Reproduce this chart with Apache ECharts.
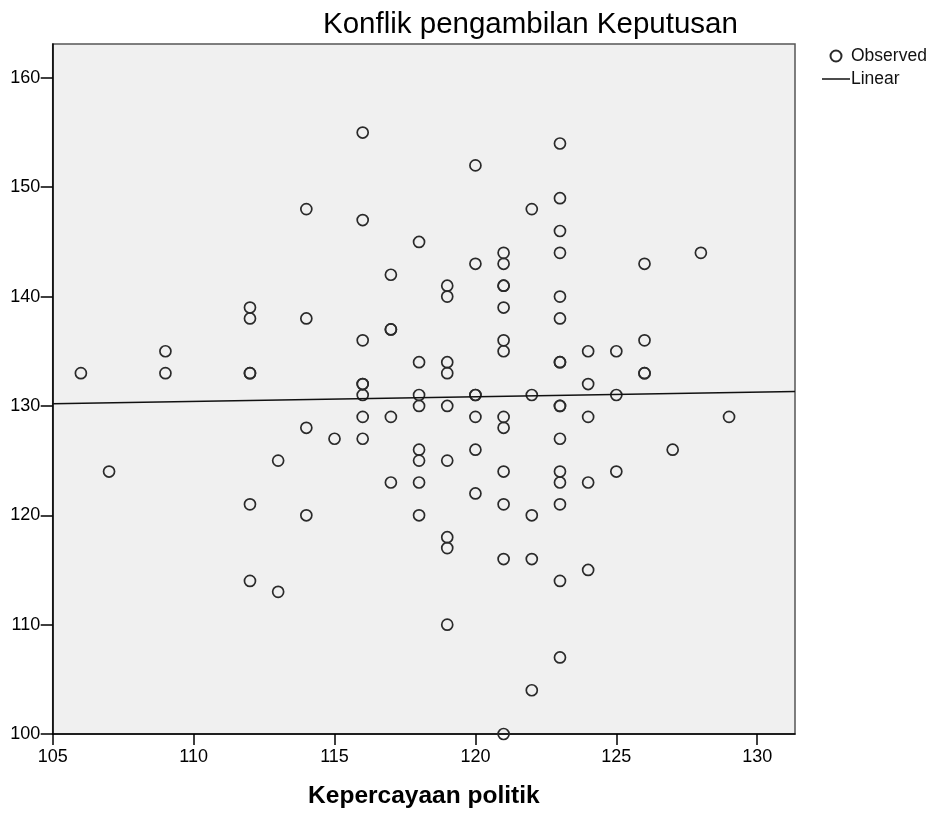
<!DOCTYPE html>
<html>
<head>
<meta charset="utf-8">
<script src="https://cdn.jsdelivr.net/npm/echarts@6/dist/echarts.min.js"></script>
<style>
html,body{margin:0;padding:0;background:#fff;}
#chart{width:939px;height:814px;}
</style>
</head>
<body>
<div id="chart"></div>
<script>
// Kepercayaan politik (x) and Konflik pengambilan Keputusan (y), one pair per respondent
const xValues = [
  106,
  107,
  109, 109,
  112, 112, 112, 112, 112, 112,
  113, 113,
  114, 114, 114, 114,
  115,
  116, 116, 116, 116, 116, 116, 116, 116,
  117, 117, 117, 117, 117,
  118, 118, 118, 118, 118, 118, 118, 118,
  119, 119, 119, 119, 119, 119, 119, 119, 119,
  120, 120, 120, 120, 120, 120, 120,
  121, 121, 121, 121, 121, 121, 121, 121, 121, 121, 121, 121, 121,
  122, 122, 122, 122, 122,
  123, 123, 123, 123, 123, 123, 123, 123, 123, 123, 123, 123, 123, 123, 123, 123,
  124, 124, 124, 124, 124,
  125, 125, 125,
  126, 126, 126, 126,
  127,
  128,
  129
];
const yValues = [
  133,
  124,
  135, 133,
  139, 138, 133, 133, 121, 114,
  125, 113,
  148, 138, 128, 120,
  127,
  155, 147, 136, 132, 132, 131, 129, 127,
  142, 137, 137, 129, 123,
  145, 134, 131, 130, 126, 125, 123, 120,
  141, 140, 134, 133, 130, 125, 118, 117, 110,
  152, 143, 131, 131, 129, 126, 122,
  144, 143, 141, 141, 139, 136, 135, 129, 128, 124, 121, 116, 100,
  148, 131, 120, 116, 104,
  154, 149, 146, 144, 140, 138, 134, 134, 130, 130, 127, 124, 123, 121, 114, 107,
  135, 132, 129, 123, 115,
  135, 131, 124,
  143, 136, 133, 133,
  126,
  144,
  129
];
const xTicks = [105, 110, 115, 120, 125, 130];
const yTicks = [100, 110, 120, 130, 140, 150, 160];
const xRange = [105, 131.34];
const yRange = [100, 163.1];

const observed = xValues.map((x, i) => [x, yValues[i]]);

// least-squares linear fit from the observed data
const n = xValues.length;
const mx = xValues.reduce((a, b) => a + b, 0) / n;
const my = yValues.reduce((a, b) => a + b, 0) / n;
let sxy = 0, sxx = 0;
for (let i = 0; i < n; i++) {
  sxy += (xValues[i] - mx) * (yValues[i] - my);
  sxx += (xValues[i] - mx) * (xValues[i] - mx);
}
const slope = sxy / sxx;
const intercept = my - slope * mx;
const fitLine = xRange.map(x => [x, intercept + slope * x]);

const FONT = 'Liberation Sans, Arial, sans-serif';
const chart = echarts.init(document.getElementById('chart'), null, {renderer: 'canvas'});
chart.setOption({
  animation: false,
  backgroundColor: '#ffffff',
  title: {
    text: 'Konflik pengambilan Keputusan',
    left: 318,
    top: 5,
    textStyle: {fontFamily: FONT, fontSize: 29.5, fontWeight: 'normal', color: '#000'}
  },
  legend: {
    orient: 'vertical',
    left: 817,
    top: 42,
    itemWidth: 28,
    itemHeight: 11,
    itemGap: 5,
    symbolKeepAspect: true,
    textStyle: {fontFamily: FONT, fontSize: 17.5, color: '#111', padding: [0, 0, 0, -4]},
    data: [
      {name: 'Observed', icon: 'circle'},
      {name: 'Linear', icon: 'path://M0,0H28V1.5H0Z', itemStyle: {color: '#111', borderWidth: 0}}
    ]
  },
  grid: {
    left: 52.7,
    top: 44,
    right: 144,
    bottom: 80,
    show: true,
    backgroundColor: '#f0f0f0',
    borderColor: '#555',
    borderWidth: 1.5
  },
  xAxis: {
    type: 'value',
    min: xRange[0],
    max: xRange[1],
    interval: 5,
    name: 'Kepercayaan politik',
    nameLocation: 'middle',
    nameGap: 50,
    nameTextStyle: {fontFamily: FONT, fontSize: 24.5, fontWeight: 'bold', color: '#000'},
    axisLine: {show: true, onZero: false, lineStyle: {color: '#000', width: 1.5}},
    axisTick: {show: true, inside: false, length: 11, customValues: xTicks, lineStyle: {color: '#000', width: 1.5}},
    axisLabel: {customValues: xTicks, margin: 14, fontFamily: FONT, fontSize: 18, color: '#000'},
    splitLine: {show: false}
  },
  yAxis: {
    type: 'value',
    min: yRange[0],
    max: yRange[1],
    interval: 10,
    axisLine: {show: true, onZero: false, lineStyle: {color: '#000', width: 1.5}},
    axisTick: {show: true, inside: false, length: 12, customValues: yTicks, lineStyle: {color: '#000', width: 1.5}},
    axisLabel: {customValues: yTicks, margin: 12.5, fontFamily: FONT, fontSize: 18, color: '#000'},
    splitLine: {show: false}
  },
  series: [
    {
      name: 'Observed',
      type: 'scatter',
      symbol: 'circle',
      symbolSize: 11,
      data: observed,
      itemStyle: {color: 'rgba(0,0,0,0)', borderColor: '#2a2a2a', borderWidth: 1.7, opacity: 1},
      z: 3
    },
    {
      name: 'Linear',
      type: 'line',
      data: fitLine,
      showSymbol: false,
      symbol: 'none',
      lineStyle: {color: '#111', width: 1.5},
      itemStyle: {color: '#111'},
      z: 4
    }
  ]
});
</script>
</body>
</html>
